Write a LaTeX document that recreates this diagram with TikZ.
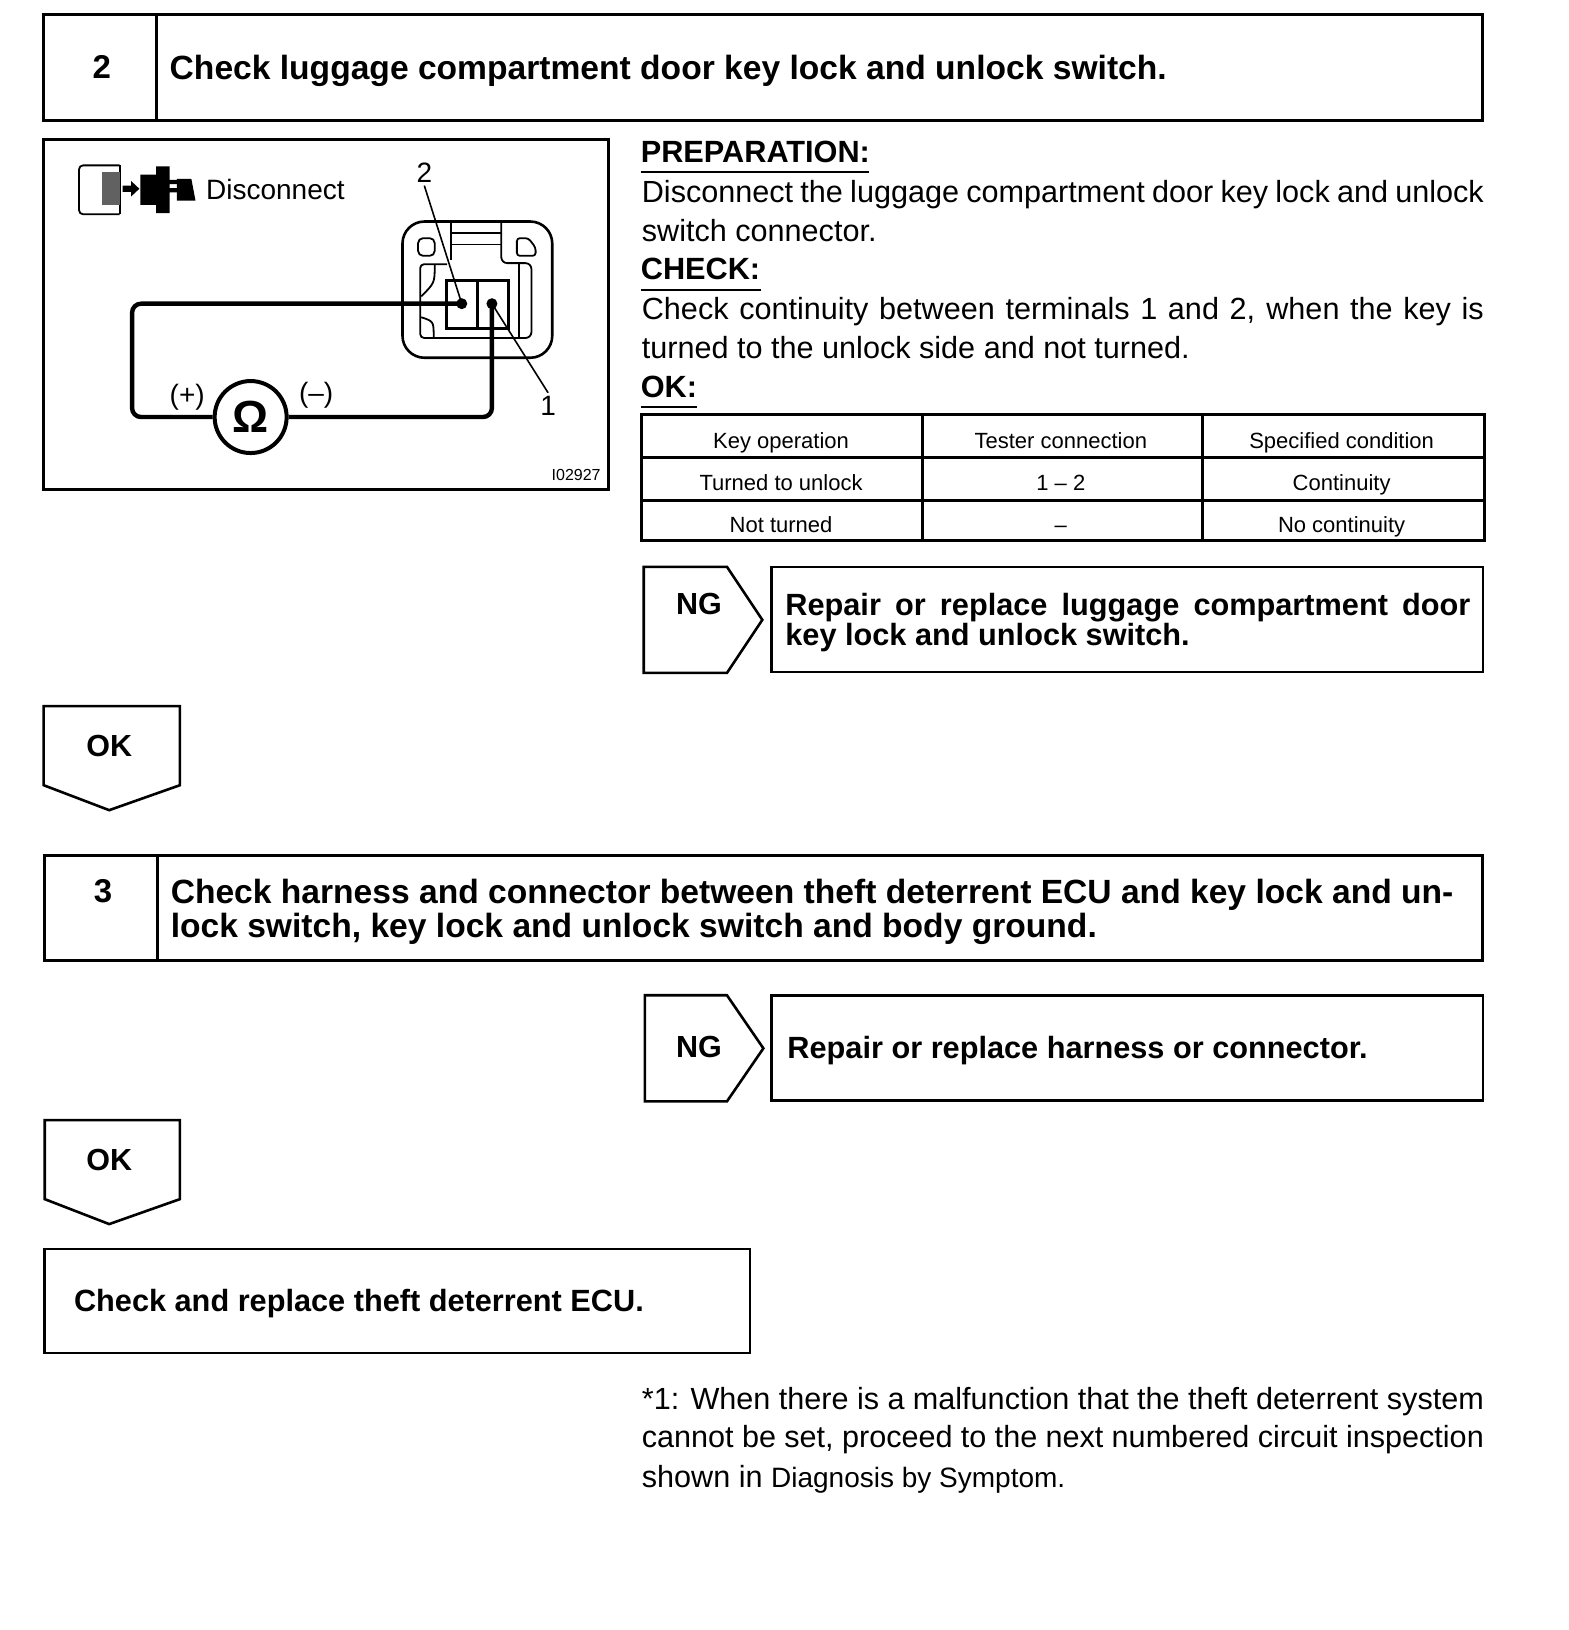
\documentclass[tikz,border=0pt]{standalone}
\usepackage{fontspec}
\setmainfont{Liberation Sans}
\usetikzlibrary{calc}
\newcommand{\fsz}[1]{\fontsize{#1pt}{#1pt}\selectfont}
\newcommand{\jline}[2]{\makebox[#1pt][s]{#2}}
\tikzset{
  lw/.style={line width=3pt},
  frame/.style={draw=black,line width=3pt,line join=miter,fill=white},
  thinframe/.style={draw=black,line width=2.6pt},
  head/.style={anchor=base west,inner sep=0pt,font=\bfseries\fsz{33.6}},
  num/.style={inner sep=0pt,font=\bfseries\fsz{33}},
  tag/.style={inner sep=0pt,font=\bfseries\fsz{30.5}},
  action/.style={anchor=base west,inner sep=0pt,font=\bfseries\fsz{30.7}},
  body/.style={anchor=base west,inner sep=0pt,font=\fsz{30.6}},
  sect/.style={anchor=base west,inner sep=0pt,font=\bfseries\fsz{30.7}},
  cell/.style={inner sep=0pt,font=\fsz{22},anchor=base},
  lab/.style={inner sep=0pt,font=\fsz{28}},
  wire/.style={draw=black,line width=4.4pt,rounded corners=9pt},
  leader/.style={draw=black,line width=1.6pt},
  part/.style={draw=black,line width=1.8pt},
  term/.style={circle,fill=black,minimum size=11pt,inner sep=0pt},
  uline/.style={draw=black,line width=1.6pt},
}
\begin{document}
\begin{tikzpicture}[x=1.04pt,y=-1.04pt]
\useasboundingbox (0,0) rectangle (1507.7,1567.3);
\fill[white] (0,0) rectangle (1507.7,1567.3);

% header 2
\draw[frame] (42,14) rectangle (1425,116);
\draw[lw] (150,14) -- (150,116);
\node[num] (n2) at (98,64) {2};
\node[head] (h2) at (163,76) {Check luggage compartment door key lock and unlock switch.};

% illustration frame
\draw[frame] (42,134) rectangle (585,471);

% disconnect icon
\draw[part,rounded corners=4pt] (115,159) -- (76,159) -- (76,206) -- (115,206);
\draw[part] (115,159) -- (115,206);
\fill[black!62] (98,165) rectangle (115,197);
\fill (118,178.5) -- (126,178.5) -- (126,174) -- (134,181.5) -- (126,189) -- (126,184.5) -- (118,184.5) -- cycle;
\fill (135,168) -- (150,168) -- (150,160) -- (163,160) -- (163,173) -- (170,173) -- (170,177) -- (163,177) -- (163,181) -- (170,181) -- (170,185) -- (163,185) -- (163,190) -- (163,205) -- (150,205) -- (150,197) -- (135,197) -- cycle;
\fill (170,172) -- (184,172) -- (188,193) -- (170,193) -- cycle;
\node[lab,anchor=base west] (disc) at (198,191.5) {Disconnect};

% switch connector outline
\draw[part,line width=2.6pt,rounded corners=22pt] (387,213) rectangle (531,344);
\draw[part] (434,214) -- (434,250);
\draw[part,rounded corners=6pt] (482,214) -- (482,253) -- (511,253) -- (511,325) -- (410,325);
\draw[part] (499,253) -- (499,325);
\draw[part,line width=2.6pt] (434,224) -- (482,224);
\draw[part] (434,235) -- (482,235);
\draw[part,rounded corners=4pt] (430,254) -- (404,254) -- (404,325) -- (412,325);
\draw[part,rounded corners=5pt] (402,229) rectangle (418,246);
\draw[part,rounded corners=3pt] (497,229) -- (508,229) -- (515,238) -- (515,246) -- (497,246) -- cycle;
\draw[part] (418,255) .. controls (418,272) .. (405,285);
\draw[part] (405,305) .. controls (417,309) .. (417,324);
\draw[draw=black,line width=3pt] (429,270) rectangle (489,316);
\draw[draw=black,line width=2.6pt] (459,270) -- (459,316);

% terminals, meter, wires
\node[term] (t2) at (444,292) {};
\node[term] (t1) at (473,292) {};
\node[circle,draw=black,line width=4pt,fill=white,minimum size=72pt,inner sep=0pt,font=\bfseries\fsz{45}] (meter) at (241,401) {Ω};
\draw[wire] (t2.center) -- (127,292) -- (127,401) -- (meter.west);
\draw[wire] (meter.east) -- (473,401) -- (t1.center);
\node[lab] (plus) at (180,382) {(+)};
\node[lab] (minus) at (304,380) {(–)};
\node[lab] (l2) at (408,166) {2};
\node[lab] (l1) at (527,390) {1};
\draw[leader] (l2.south) ++(0,-3pt) -- (t2.center);
\draw[leader] (l1.north) ++(0,3pt) -- (t1.center);
\node[inner sep=0pt,font=\fsz{16}] (code) at (554,457) {I02927};

% right column text
\node[sect] (prep) at (616,156) {PREPARATION:};
\draw[uline] (prep.base west) ++(0,-10pt) -- ++(220,0);
\node[body] (p1) at (617,195) {\jline{842}{Disconnect the luggage compartment door key lock and unlock}};
\node[body] (p2) at (617,232) {switch connector.};
\node[sect] (chk) at (616,269) {CHECK:};
\draw[uline] (chk.base west) ++(0,-10pt) -- ++(116,0);
\node[body] (c1) at (617,307) {\jline{842}{Check continuity between terminals 1 and 2, when the key is}};
\node[body] (c2) at (617,345) {turned to the unlock side and not turned.};
\node[sect] (oks) at (616,382) {OK:};
\draw[uline] (oks.base west) ++(0,-10pt) -- ++(54,0);

% table
\draw[frame] (617,399) rectangle (1427,520);
\foreach \yy in {440,481} \draw[lw] (617,\yy) -- (1427,\yy);
\foreach \xx in {887,1156} \draw[lw] (\xx,399) -- (\xx,520);
\node[cell] (a1) at (751,431) {Key operation};
\node[cell] (a2) at (1020,431) {Tester connection};
\node[cell] (a3) at (1290,431) {Specified condition};
\node[cell] (b1) at (751,472) {Turned to unlock};
\node[cell] (b2) at (1020,472) {1 – 2};
\node[cell] (b3) at (1290,472) {Continuity};
\node[cell] (d1) at (751,512) {Not turned};
\node[cell] (d2) at (1020,512) {–};
\node[cell] (d3) at (1290,512) {No continuity};

% NG 1
\draw[thinframe] (619,545) -- (699,545) -- (733,596) -- (699,647) -- (619,647) -- cycle;
\node[tag] (ng1) at (672,581) {NG};
\draw[thinframe] (742,545) rectangle (1426,646);
\node[action] (r1) at (755,592) {\jline{685}{Repair or replace luggage compartment door}};
\node[action] (r2) at (755,621) {key lock and unlock switch.};

% OK 1
\draw[thinframe] (42,679) -- (173,679) -- (173,755) -- (105,779) -- (42,755) -- cycle;
\node[tag] (ok1) at (105,717) {OK};

% header 3
\draw[frame] (43,823) rectangle (1425,924);
\draw[lw] (151,823) -- (151,924);
\node[num] (n3) at (99,857) {3};
\node[head] (h31) at (164,869) {Check harness and connector between theft deterrent ECU and key lock and un-};
\node[head] (h32) at (164,901) {lock switch, key lock and unlock switch and body ground.};

% NG 2
\draw[thinframe] (620,957) -- (699,957) -- (734,1008) -- (699,1059) -- (620,1059) -- cycle;
\node[tag] (ng2) at (672,1007) {NG};
\draw[thinframe] (742,957) rectangle (1426,1058);
\node[action] (r3) at (757,1018) {Repair or replace harness or connector.};

% OK 2
\draw[thinframe] (43,1077) -- (173,1077) -- (173,1153) -- (105,1177) -- (43,1153) -- cycle;
\node[tag] (ok2) at (105,1115) {OK};

% final box
\draw[thinframe] (43,1201) rectangle (721,1301);
\node[action] (r4) at (71,1261) {Check and replace theft deterrent ECU.};

% footnote
\node[body] (f1) at (617,1355) {\jline{842}{*1: When there is a malfunction that the theft deterrent system}};
\node[body] (f2) at (617,1392) {\jline{842}{cannot be set, proceed to the next numbered circuit inspection}};
\node[body] (f3) at (617,1430) {shown in {\fsz{28}Diagnosis by Symptom.}};
\end{tikzpicture}
\end{document}
